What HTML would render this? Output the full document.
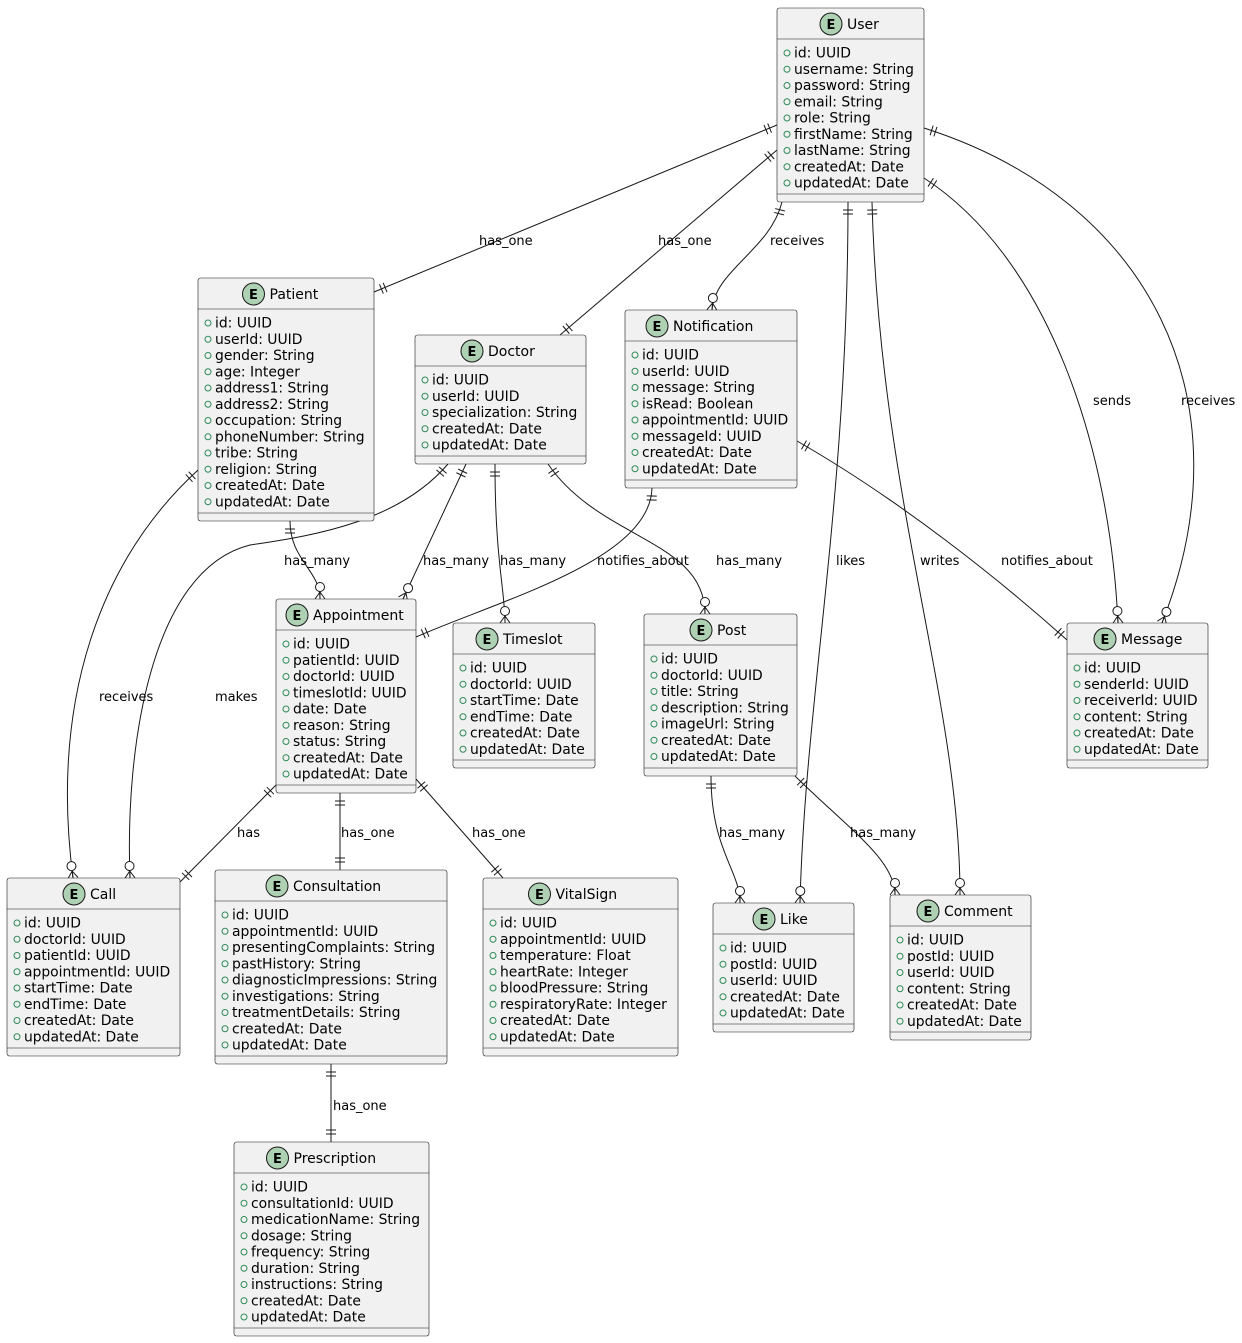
<!DOCTYPE html>
<html><head><meta charset="utf-8"><style>
html,body{margin:0;padding:0;background:#fff;}
svg{display:block;font-family:"DejaVu Sans","Liberation Sans",sans-serif;}
.box{fill:#f1f1f1;stroke:#181818;stroke-width:0.6;}
.sep{stroke:#181818;stroke-width:0.6;}
.t{font-size:14px;fill:#000;}
.a{font-size:13.9px;fill:#000;}
.ac{fill:none;stroke:#2e8b57;stroke-width:1;}
.ec{fill:#add1b2;stroke:#181818;stroke-width:1;}
.el{font-size:13px;font-weight:bold;fill:#000;}
.e{fill:none;stroke:#181818;stroke-width:1;}
.l{font-size:13px;fill:#000;}
</style></head><body>
<svg width="1242" height="1343" viewBox="0 0 1242 1343" xmlns="http://www.w3.org/2000/svg">
<defs>
<marker id="one" markerUnits="userSpaceOnUse" markerWidth="30" markerHeight="20" viewBox="0 0 30 20" refX="24" refY="10" orient="auto-start-reverse">
<path d="M16,5 L16,15 M12,5 L12,15" stroke="#181818" stroke-width="1" fill="none"/>
</marker>
<marker id="many" markerUnits="userSpaceOnUse" markerWidth="30" markerHeight="20" viewBox="0 0 30 20" refX="24" refY="10" orient="auto-start-reverse">
<circle cx="12" cy="10" r="4.5" fill="#fff" stroke="#181818" stroke-width="1"/>
<path d="M17,10 L24,5 M17,10 L24,10 M17,10 L24,15" stroke="#181818" stroke-width="1" fill="none"/>
</marker>
</defs>

<!-- edges -->
<path class="e" d="M777,125 L374,292" marker-start="url(#one)" marker-end="url(#one)"/>
<path class="e" d="M777,150 L560,335" marker-start="url(#one)" marker-end="url(#one)"/>
<path class="e" d="M782,202 C770,250 715,270 712,310" marker-start="url(#one)" marker-end="url(#many)"/>
<path class="e" d="M848,202 C848,500 805,700 800,903" marker-start="url(#one)" marker-end="url(#many)"/>
<path class="e" d="M872,202 C880,500 960,700 960,895" marker-start="url(#one)" marker-end="url(#many)"/>
<path class="e" d="M924,178 C1050,260 1110,450 1118,623" marker-start="url(#one)" marker-end="url(#many)"/>
<path class="e" d="M924,128 C1150,200 1250,400 1162,623" marker-start="url(#one)" marker-end="url(#many)"/>
<path class="e" d="M290,521 C290,560 320,570 320,599" marker-start="url(#one)" marker-end="url(#many)"/>
<path class="e" d="M198,470 C100,560 50,700 73,878" marker-start="url(#one)" marker-end="url(#many)"/>
<path class="e" d="M448,464 C400,520 320,535 250,545 C150,570 125,750 130,878" marker-start="url(#one)" marker-end="url(#many)"/>
<path class="e" d="M466,464 L403,599" marker-start="url(#one)" marker-end="url(#many)"/>
<path class="e" d="M495,464 C495,560 505,590 505,623" marker-start="url(#one)" marker-end="url(#many)"/>
<path class="e" d="M548,464 C600,540 705,540 705,614" marker-start="url(#one)" marker-end="url(#many)"/>
<path class="e" d="M652,488 C650,560 500,600 416,637" marker-start="url(#one)" marker-end="url(#one)"/>
<path class="e" d="M797,441 C900,500 1000,580 1067,640" marker-start="url(#one)" marker-end="url(#one)"/>
<path class="e" d="M276,785 L180,882" marker-start="url(#one)" marker-end="url(#one)"/>
<path class="e" d="M340,793 L340,870" marker-start="url(#one)" marker-end="url(#one)"/>
<path class="e" d="M416,779 L503,878" marker-start="url(#one)" marker-end="url(#one)"/>
<path class="e" d="M711,776 C711,850 740,870 740,903" marker-start="url(#one)" marker-end="url(#many)"/>
<path class="e" d="M795,776 C850,830 895,860 895,895" marker-start="url(#one)" marker-end="url(#many)"/>
<path class="e" d="M331,1064 L331,1142" marker-start="url(#one)" marker-end="url(#one)"/>

<!-- labels -->
<g class="l">
<text x="479" y="245">has_one</text>
<text x="658" y="245">has_one</text>
<text x="770" y="245">receives</text>
<text x="1093" y="405">sends</text>
<text x="1181" y="405">receives</text>
<text x="284" y="565">has_many</text>
<text x="423" y="565">has_many</text>
<text x="500" y="565">has_many</text>
<text x="597" y="565">notifies_about</text>
<text x="716" y="565">has_many</text>
<text x="836" y="565">likes</text>
<text x="920" y="565">writes</text>
<text x="1001" y="565">notifies_about</text>
<text x="99" y="701">receives</text>
<text x="215" y="701">makes</text>
<text x="237" y="837">has</text>
<text x="341" y="837">has_one</text>
<text x="472" y="837">has_one</text>
<text x="719" y="837">has_many</text>
<text x="850" y="837">has_many</text>
<text x="333" y="1110">has_one</text>
</g>

<!-- User -->
<g transform="translate(777,8)">
<rect class="box" x="0" y="0" width="147" height="194" rx="2.5"/>
<line class="sep" x1="0" y1="31" x2="147" y2="31"/><line class="sep" x1="0" y1="186" x2="147" y2="186"/>
<circle class="ec" cx="54" cy="16" r="11"/><text class="el" x="54" y="21" text-anchor="middle">E</text>
<text class="t" x="70" y="21">User</text>
<g class="ac"><circle cx="10" cy="45" r="3"/><circle cx="10" cy="61.25" r="3"/><circle cx="10" cy="77.5" r="3"/><circle cx="10" cy="93.75" r="3"/><circle cx="10" cy="110" r="3"/><circle cx="10" cy="126.25" r="3"/><circle cx="10" cy="142.5" r="3"/><circle cx="10" cy="158.75" r="3"/><circle cx="10" cy="175" r="3"/></g>
<g class="a"><text x="17" y="49.5">id: UUID</text><text x="17" y="65.75">username: String</text><text x="17" y="82">password: String</text><text x="17" y="98.25">email: String</text><text x="17" y="114.5">role: String</text><text x="17" y="130.75">firstName: String</text><text x="17" y="147">lastName: String</text><text x="17" y="163.25">createdAt: Date</text><text x="17" y="179.5">updatedAt: Date</text></g>
</g>

<!-- Patient -->
<g transform="translate(198,278)">
<rect class="box" x="0" y="0" width="176" height="243" rx="2.5"/>
<line class="sep" x1="0" y1="31" x2="176" y2="31"/><line class="sep" x1="0" y1="235" x2="176" y2="235"/>
<circle class="ec" cx="55.5" cy="16" r="11"/><text class="el" x="55.5" y="21" text-anchor="middle">E</text>
<text class="t" x="71.5" y="21">Patient</text>
<g class="ac"><circle cx="10" cy="45" r="3"/><circle cx="10" cy="61.25" r="3"/><circle cx="10" cy="77.5" r="3"/><circle cx="10" cy="93.75" r="3"/><circle cx="10" cy="110" r="3"/><circle cx="10" cy="126.25" r="3"/><circle cx="10" cy="142.5" r="3"/><circle cx="10" cy="158.75" r="3"/><circle cx="10" cy="175" r="3"/><circle cx="10" cy="191.25" r="3"/><circle cx="10" cy="207.5" r="3"/><circle cx="10" cy="223.75" r="3"/></g>
<g class="a"><text x="17" y="49.5">id: UUID</text><text x="17" y="65.75">userId: UUID</text><text x="17" y="82">gender: String</text><text x="17" y="98.25">age: Integer</text><text x="17" y="114.5">address1: String</text><text x="17" y="130.75">address2: String</text><text x="17" y="147">occupation: String</text><text x="17" y="163.25">phoneNumber: String</text><text x="17" y="179.5">tribe: String</text><text x="17" y="195.75">religion: String</text><text x="17" y="212">createdAt: Date</text><text x="17" y="228.25">updatedAt: Date</text></g>
</g>

<!-- Doctor -->
<g transform="translate(415,335)">
<rect class="box" x="0" y="0" width="171" height="129" rx="2.5"/>
<line class="sep" x1="0" y1="31" x2="171" y2="31"/><line class="sep" x1="0" y1="121" x2="171" y2="121"/>
<circle class="ec" cx="57" cy="16" r="11"/><text class="el" x="57" y="21" text-anchor="middle">E</text>
<text class="t" x="73" y="21">Doctor</text>
<g class="ac"><circle cx="10" cy="45" r="3"/><circle cx="10" cy="61.25" r="3"/><circle cx="10" cy="77.5" r="3"/><circle cx="10" cy="93.75" r="3"/><circle cx="10" cy="110" r="3"/></g>
<g class="a"><text x="17" y="49.5">id: UUID</text><text x="17" y="65.75">userId: UUID</text><text x="17" y="82">specialization: String</text><text x="17" y="98.25">createdAt: Date</text><text x="17" y="114.5">updatedAt: Date</text></g>
</g>

<!-- Notification -->
<g transform="translate(625,310)">
<rect class="box" x="0" y="0" width="172" height="178" rx="2.5"/>
<line class="sep" x1="0" y1="31" x2="172" y2="31"/><line class="sep" x1="0" y1="170" x2="172" y2="170"/>
<circle class="ec" cx="32" cy="16" r="11"/><text class="el" x="32" y="21" text-anchor="middle">E</text>
<text class="t" x="48" y="21">Notification</text>
<g class="ac"><circle cx="10" cy="45" r="3"/><circle cx="10" cy="61.25" r="3"/><circle cx="10" cy="77.5" r="3"/><circle cx="10" cy="93.75" r="3"/><circle cx="10" cy="110" r="3"/><circle cx="10" cy="126.25" r="3"/><circle cx="10" cy="142.5" r="3"/><circle cx="10" cy="158.75" r="3"/></g>
<g class="a"><text x="17" y="49.5">id: UUID</text><text x="17" y="65.75">userId: UUID</text><text x="17" y="82">message: String</text><text x="17" y="98.25">isRead: Boolean</text><text x="17" y="114.5">appointmentId: UUID</text><text x="17" y="130.75">messageId: UUID</text><text x="17" y="147">createdAt: Date</text><text x="17" y="163.25">updatedAt: Date</text></g>
</g>

<!-- Appointment -->
<g transform="translate(276,599)">
<rect class="box" x="0" y="0" width="140" height="194" rx="2.5"/>
<line class="sep" x1="0" y1="31" x2="140" y2="31"/><line class="sep" x1="0" y1="186" x2="140" y2="186"/>
<circle class="ec" cx="21" cy="16" r="11"/><text class="el" x="21" y="21" text-anchor="middle">E</text>
<text class="t" x="37" y="21">Appointment</text>
<g class="ac"><circle cx="10" cy="45" r="3"/><circle cx="10" cy="61.25" r="3"/><circle cx="10" cy="77.5" r="3"/><circle cx="10" cy="93.75" r="3"/><circle cx="10" cy="110" r="3"/><circle cx="10" cy="126.25" r="3"/><circle cx="10" cy="142.5" r="3"/><circle cx="10" cy="158.75" r="3"/><circle cx="10" cy="175" r="3"/></g>
<g class="a"><text x="17" y="49.5">id: UUID</text><text x="17" y="65.75">patientId: UUID</text><text x="17" y="82">doctorId: UUID</text><text x="17" y="98.25">timeslotId: UUID</text><text x="17" y="114.5">date: Date</text><text x="17" y="130.75">reason: String</text><text x="17" y="147">status: String</text><text x="17" y="163.25">createdAt: Date</text><text x="17" y="179.5">updatedAt: Date</text></g>
</g>

<!-- Timeslot -->
<g transform="translate(453,623)">
<rect class="box" x="0" y="0" width="142" height="145" rx="2.5"/>
<line class="sep" x1="0" y1="31" x2="142" y2="31"/><line class="sep" x1="0" y1="137" x2="142" y2="137"/>
<circle class="ec" cx="34" cy="16" r="11"/><text class="el" x="34" y="21" text-anchor="middle">E</text>
<text class="t" x="50" y="21">Timeslot</text>
<g class="ac"><circle cx="10" cy="45" r="3"/><circle cx="10" cy="61.25" r="3"/><circle cx="10" cy="77.5" r="3"/><circle cx="10" cy="93.75" r="3"/><circle cx="10" cy="110" r="3"/><circle cx="10" cy="126.25" r="3"/></g>
<g class="a"><text x="17" y="49.5">id: UUID</text><text x="17" y="65.75">doctorId: UUID</text><text x="17" y="82">startTime: Date</text><text x="17" y="98.25">endTime: Date</text><text x="17" y="114.5">createdAt: Date</text><text x="17" y="130.75">updatedAt: Date</text></g>
</g>

<!-- Post -->
<g transform="translate(644,614)">
<rect class="box" x="0" y="0" width="153" height="162" rx="2.5"/>
<line class="sep" x1="0" y1="31" x2="153" y2="31"/><line class="sep" x1="0" y1="154" x2="153" y2="154"/>
<circle class="ec" cx="57" cy="16" r="11"/><text class="el" x="57" y="21" text-anchor="middle">E</text>
<text class="t" x="73" y="21">Post</text>
<g class="ac"><circle cx="10" cy="45" r="3"/><circle cx="10" cy="61.25" r="3"/><circle cx="10" cy="77.5" r="3"/><circle cx="10" cy="93.75" r="3"/><circle cx="10" cy="110" r="3"/><circle cx="10" cy="126.25" r="3"/><circle cx="10" cy="142.5" r="3"/></g>
<g class="a"><text x="17" y="49.5">id: UUID</text><text x="17" y="65.75">doctorId: UUID</text><text x="17" y="82">title: String</text><text x="17" y="98.25">description: String</text><text x="17" y="114.5">imageUrl: String</text><text x="17" y="130.75">createdAt: Date</text><text x="17" y="147">updatedAt: Date</text></g>
</g>

<!-- Message -->
<g transform="translate(1067,623)">
<rect class="box" x="0" y="0" width="141" height="145" rx="2.5"/>
<line class="sep" x1="0" y1="31" x2="141" y2="31"/><line class="sep" x1="0" y1="137" x2="141" y2="137"/>
<circle class="ec" cx="38" cy="16" r="11"/><text class="el" x="38" y="21" text-anchor="middle">E</text>
<text class="t" x="54" y="21">Message</text>
<g class="ac"><circle cx="10" cy="45" r="3"/><circle cx="10" cy="61.25" r="3"/><circle cx="10" cy="77.5" r="3"/><circle cx="10" cy="93.75" r="3"/><circle cx="10" cy="110" r="3"/><circle cx="10" cy="126.25" r="3"/></g>
<g class="a"><text x="17" y="49.5">id: UUID</text><text x="17" y="65.75">senderId: UUID</text><text x="17" y="82">receiverId: UUID</text><text x="17" y="98.25">content: String</text><text x="17" y="114.5">createdAt: Date</text><text x="17" y="130.75">updatedAt: Date</text></g>
</g>

<!-- Call -->
<g transform="translate(7,878)">
<rect class="box" x="0" y="0" width="173" height="178" rx="2.5"/>
<line class="sep" x1="0" y1="31" x2="173" y2="31"/><line class="sep" x1="0" y1="170" x2="173" y2="170"/>
<circle class="ec" cx="67" cy="16" r="11"/><text class="el" x="67" y="21" text-anchor="middle">E</text>
<text class="t" x="83" y="21">Call</text>
<g class="ac"><circle cx="10" cy="45" r="3"/><circle cx="10" cy="61.25" r="3"/><circle cx="10" cy="77.5" r="3"/><circle cx="10" cy="93.75" r="3"/><circle cx="10" cy="110" r="3"/><circle cx="10" cy="126.25" r="3"/><circle cx="10" cy="142.5" r="3"/><circle cx="10" cy="158.75" r="3"/></g>
<g class="a"><text x="17" y="49.5">id: UUID</text><text x="17" y="65.75">doctorId: UUID</text><text x="17" y="82">patientId: UUID</text><text x="17" y="98.25">appointmentId: UUID</text><text x="17" y="114.5">startTime: Date</text><text x="17" y="130.75">endTime: Date</text><text x="17" y="147">createdAt: Date</text><text x="17" y="163.25">updatedAt: Date</text></g>
</g>

<!-- Consultation -->
<g transform="translate(215,870)">
<rect class="box" x="0" y="0" width="232" height="194" rx="2.5"/>
<line class="sep" x1="0" y1="31" x2="232" y2="31"/><line class="sep" x1="0" y1="186" x2="232" y2="186"/>
<circle class="ec" cx="62" cy="16" r="11"/><text class="el" x="62" y="21" text-anchor="middle">E</text>
<text class="t" x="78" y="21">Consultation</text>
<g class="ac"><circle cx="10" cy="45" r="3"/><circle cx="10" cy="61.25" r="3"/><circle cx="10" cy="77.5" r="3"/><circle cx="10" cy="93.75" r="3"/><circle cx="10" cy="110" r="3"/><circle cx="10" cy="126.25" r="3"/><circle cx="10" cy="142.5" r="3"/><circle cx="10" cy="158.75" r="3"/><circle cx="10" cy="175" r="3"/></g>
<g class="a"><text x="17" y="49.5">id: UUID</text><text x="17" y="65.75">appointmentId: UUID</text><text x="17" y="82">presentingComplaints: String</text><text x="17" y="98.25">pastHistory: String</text><text x="17" y="114.5">diagnosticImpressions: String</text><text x="17" y="130.75">investigations: String</text><text x="17" y="147">treatmentDetails: String</text><text x="17" y="163.25">createdAt: Date</text><text x="17" y="179.5">updatedAt: Date</text></g>
</g>

<!-- VitalSign -->
<g transform="translate(483,878)">
<rect class="box" x="0" y="0" width="195" height="178" rx="2.5"/>
<line class="sep" x1="0" y1="31" x2="195" y2="31"/><line class="sep" x1="0" y1="170" x2="195" y2="170"/>
<circle class="ec" cx="56.5" cy="16" r="11"/><text class="el" x="56.5" y="21" text-anchor="middle">E</text>
<text class="t" x="72.5" y="21">VitalSign</text>
<g class="ac"><circle cx="10" cy="45" r="3"/><circle cx="10" cy="61.25" r="3"/><circle cx="10" cy="77.5" r="3"/><circle cx="10" cy="93.75" r="3"/><circle cx="10" cy="110" r="3"/><circle cx="10" cy="126.25" r="3"/><circle cx="10" cy="142.5" r="3"/><circle cx="10" cy="158.75" r="3"/></g>
<g class="a"><text x="17" y="49.5">id: UUID</text><text x="17" y="65.75">appointmentId: UUID</text><text x="17" y="82">temperature: Float</text><text x="17" y="98.25">heartRate: Integer</text><text x="17" y="114.5">bloodPressure: String</text><text x="17" y="130.75">respiratoryRate: Integer</text><text x="17" y="147">createdAt: Date</text><text x="17" y="163.25">updatedAt: Date</text></g>
</g>

<!-- Like -->
<g transform="translate(713,903)">
<rect class="box" x="0" y="0" width="141" height="129" rx="2.5"/>
<line class="sep" x1="0" y1="31" x2="141" y2="31"/><line class="sep" x1="0" y1="121" x2="141" y2="121"/>
<circle class="ec" cx="51" cy="16" r="11"/><text class="el" x="51" y="21" text-anchor="middle">E</text>
<text class="t" x="67" y="21">Like</text>
<g class="ac"><circle cx="10" cy="45" r="3"/><circle cx="10" cy="61.25" r="3"/><circle cx="10" cy="77.5" r="3"/><circle cx="10" cy="93.75" r="3"/><circle cx="10" cy="110" r="3"/></g>
<g class="a"><text x="17" y="49.5">id: UUID</text><text x="17" y="65.75">postId: UUID</text><text x="17" y="82">userId: UUID</text><text x="17" y="98.25">createdAt: Date</text><text x="17" y="114.5">updatedAt: Date</text></g>
</g>

<!-- Comment -->
<g transform="translate(890,895)">
<rect class="box" x="0" y="0" width="141" height="145" rx="2.5"/>
<line class="sep" x1="0" y1="31" x2="141" y2="31"/><line class="sep" x1="0" y1="137" x2="141" y2="137"/>
<circle class="ec" cx="38" cy="16" r="11"/><text class="el" x="38" y="21" text-anchor="middle">E</text>
<text class="t" x="54" y="21">Comment</text>
<g class="ac"><circle cx="10" cy="45" r="3"/><circle cx="10" cy="61.25" r="3"/><circle cx="10" cy="77.5" r="3"/><circle cx="10" cy="93.75" r="3"/><circle cx="10" cy="110" r="3"/><circle cx="10" cy="126.25" r="3"/></g>
<g class="a"><text x="17" y="49.5">id: UUID</text><text x="17" y="65.75">postId: UUID</text><text x="17" y="82">userId: UUID</text><text x="17" y="98.25">content: String</text><text x="17" y="114.5">createdAt: Date</text><text x="17" y="130.75">updatedAt: Date</text></g>
</g>

<!-- Prescription -->
<g transform="translate(234,1142)">
<rect class="box" x="0" y="0" width="195" height="194" rx="2.5"/>
<line class="sep" x1="0" y1="31" x2="195" y2="31"/><line class="sep" x1="0" y1="186" x2="195" y2="186"/>
<circle class="ec" cx="43.5" cy="16" r="11"/><text class="el" x="43.5" y="21" text-anchor="middle">E</text>
<text class="t" x="59.5" y="21">Prescription</text>
<g class="ac"><circle cx="10" cy="45" r="3"/><circle cx="10" cy="61.25" r="3"/><circle cx="10" cy="77.5" r="3"/><circle cx="10" cy="93.75" r="3"/><circle cx="10" cy="110" r="3"/><circle cx="10" cy="126.25" r="3"/><circle cx="10" cy="142.5" r="3"/><circle cx="10" cy="158.75" r="3"/><circle cx="10" cy="175" r="3"/></g>
<g class="a"><text x="17" y="49.5">id: UUID</text><text x="17" y="65.75">consultationId: UUID</text><text x="17" y="82">medicationName: String</text><text x="17" y="98.25">dosage: String</text><text x="17" y="114.5">frequency: String</text><text x="17" y="130.75">duration: String</text><text x="17" y="147">instructions: String</text><text x="17" y="163.25">createdAt: Date</text><text x="17" y="179.5">updatedAt: Date</text></g>
</g>
</svg>
</body></html>
